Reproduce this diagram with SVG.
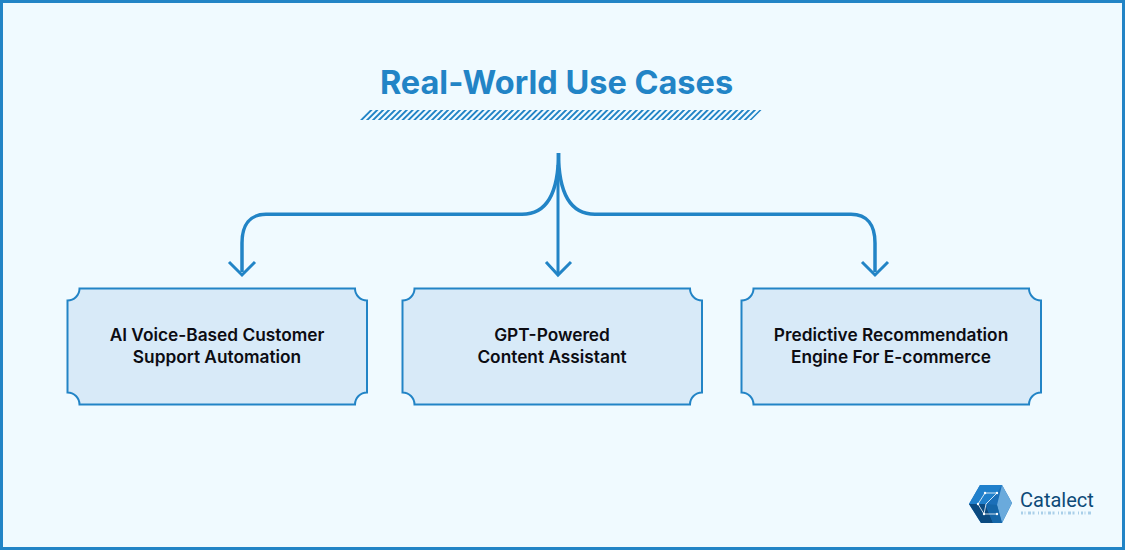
<svg xmlns="http://www.w3.org/2000/svg" width="1125" height="550" viewBox="0 0 1125 550">
<style>
.box{fill:#d8eaf8;stroke:#2284c6;stroke-width:2}
.lbl{font-family:"Inter","Liberation Sans",sans-serif;font-weight:600;font-size:17.3px;fill:#0c0c12;text-anchor:middle}
.c{fill:none;stroke:#2284c6;stroke-width:3.5}
.a{fill:none;stroke:#2284c6;stroke-width:3}
</style>
<rect x="1.5" y="1.5" width="1122" height="547" fill="#f0faff" stroke="#2284c6" stroke-width="3"/>
<g id="title">
<text x="556.5" y="94" font-family="Inter,'Liberation Sans',sans-serif" font-weight="700" font-size="32.5" fill="#2284c6" text-anchor="middle">Real-World Use Cases</text>
<path d="M365 115H756.500" transform="translate(115 0) skewX(-45)" stroke="#2284c6" stroke-width="10" stroke-dasharray="2.7 3.2" fill="none"/>
</g>
<g id="connectors">
<path class="c" d="M558.500 153C558.500 190 549 214.300 522 214.300H266C250 214.300 242 225 242 243V272"/>
<path class="c" d="M558.500 153C558.500 190 568 214.300 595 214.300H851C867 214.300 875 225 875 243V272"/>
<path class="a" d="M558 165V274"/>
<path class="a" d="M229 262L242 275L255 262M546 262L558 275L571 262M862 262L875 275L888 262"/>
</g>
<g id="node1">
<path class="box" d="M79.500 288.500H355A12 12 0 0 0 367 300.500V392.500A12 12 0 0 0 355 404.500H79.500A12 12 0 0 0 67.500 392.500V300.500A12 12 0 0 0 79.500 288.500Z"/>
<text class="lbl" x="217" y="340.500">AI Voice-Based Customer</text>
<text class="lbl" x="217" y="363">Support Automation</text>
</g>
<g id="node2">
<path class="box" d="M414.500 288.500H690A12 12 0 0 0 702 300.500V392.500A12 12 0 0 0 690 404.500H414.500A12 12 0 0 0 402.500 392.500V300.500A12 12 0 0 0 414.500 288.500Z"/>
<text class="lbl" x="552" y="340.500">GPT-Powered</text>
<text class="lbl" x="552" y="363">Content Assistant</text>
</g>
<g id="node3">
<path class="box" d="M753.500 288.500H1029A12 12 0 0 0 1041 300.500V392.500A12 12 0 0 0 1029 404.500H753.500A12 12 0 0 0 741.500 392.500V300.500A12 12 0 0 0 753.500 288.500Z"/>
<text class="lbl" x="891" y="340.500">Predictive Recommendation</text>
<text class="lbl" x="891" y="363">Engine For E-commerce</text>
</g>
<g id="logo">
<path d="M980 485H1002L1012 503L1002 523H981L969 504Z" fill="#1b6fb8"/>
<path d="M980 485H1002L997 493L986 504H969Z" fill="#2080cc"/>
<path d="M1002 485L1012 503L1002 523L997 505Z" fill="#6aaadc"/>
<path d="M969 504H985L993 523H981Z" fill="#0b4a80"/>
<path d="M986 504L997 505L1002 523H993Z" fill="#1566a8"/>
<path d="M985 493H997L986 504L984 514H997M985 493L978 504L984 514" fill="none" stroke="#fff" stroke-width="0.8"/>
<g fill="#fff"><circle cx="985" cy="493" r="1.2"/><circle cx="997" cy="493" r="1.2"/><circle cx="978" cy="504" r="1.2"/><circle cx="984" cy="514" r="1.2"/><circle cx="997" cy="514" r="1.2"/></g>
<text x="1020" y="507" font-family="Roboto,'Liberation Sans',sans-serif" font-size="20" fill="#0d4a78">Catalect</text>
<path d="M1021 513H1092" stroke="#a9cfe9" stroke-width="3" stroke-dasharray="2 1.500 1 2.500 3 1.500 2 3.500 1 2" fill="none"/>
</g>
</svg>
